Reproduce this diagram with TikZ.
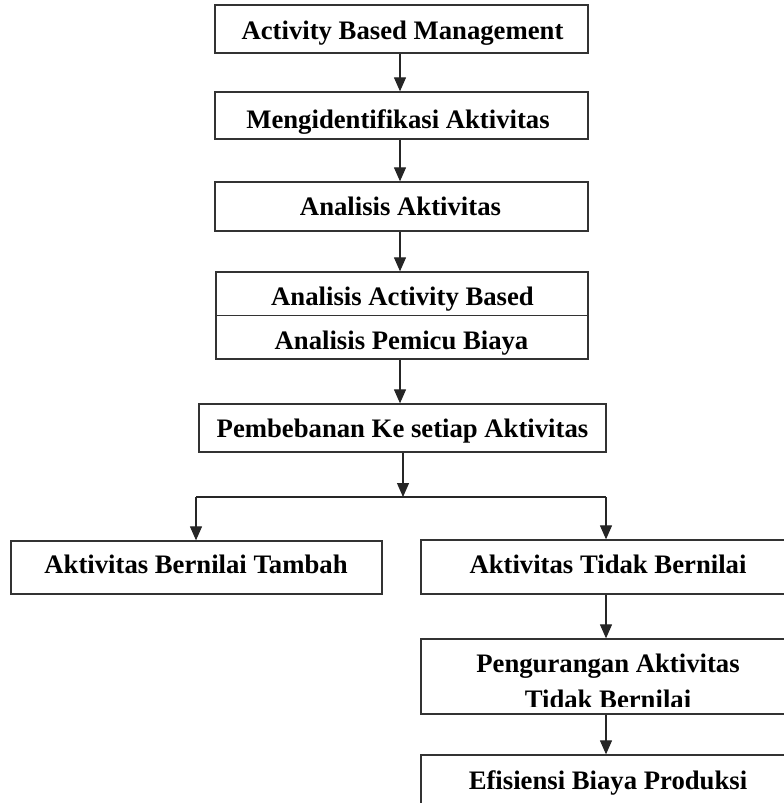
\documentclass[tikz,border=0pt]{standalone}
\usepackage{fontspec}
\setmainfont{Liberation Serif}
\usetikzlibrary{arrows.meta}
\begin{document}
\begin{tikzpicture}[x=1pt,y=-1pt,
  box/.style={draw=black!80, line width=1.3pt, inner sep=0pt, fill=none},
  txt/.style={inner sep=0pt, anchor=base, font=\fontsize{26.7}{30}\selectfont\bfseries, text=black},
  conn/.style={draw=black!85, line width=1.2pt},
  arr/.style={conn, -{Triangle[width=12pt,length=14pt]}}]
\useasboundingbox (0,0) rectangle (784,803);
\clip (0,0) rectangle (784,803);

% boxes
\node[box, minimum width=373pt, minimum height=48pt] (b1) at (401.5,29) {};
\node[box, minimum width=373pt, minimum height=47pt] (b2) at (401.5,115.5) {};
\node[box, minimum width=373pt, minimum height=49pt] (b3) at (401.5,206.5) {};
\node[box, minimum width=372pt, minimum height=87pt] (b4) at (402,315.5) {};
\node[box, minimum width=407pt, minimum height=48pt] (b5) at (402.5,428) {};
\node[box, minimum width=371pt, minimum height=53pt] (L) at (196.5,567.5) {};
\node[box, minimum width=374pt, minimum height=54pt] (R) at (608,567) {};
\node[box, minimum width=374pt, minimum height=75pt] (P) at (608,676.5) {};
\node[box, minimum width=374pt, minimum height=70pt] (E) at (608,790) {};
\draw[box] (b4.west) -- (b4.east);

% texts
\node[txt] (t1) at (402.5,39.5) {Activity Based Management};
\node[txt] (t2) at (398,128) {Mengidentifikasi Aktivitas};
\node[txt] (t3) at (400.5,215) {Analisis Aktivitas};
\node[txt] (t4a) at (402.5,305) {Analisis Activity Based};
\node[txt] (t4b) at (401.5,349) {Analisis Pemicu Biaya};
\node[txt] (t5) at (402.5,437) {Pembebanan Ke setiap Aktivitas};
\node[txt] (tL) at (196,573) {Aktivitas Bernilai Tambah};
\node[txt] (tR) at (608,573) {Aktivitas Tidak Bernilai};
\node[txt] (tP1) at (608,672) {Pengurangan Aktivitas};
\begin{scope}
  \clip (421,640) rectangle (795,706);
  \node[txt] (tP2) at (608,708) {Tidak Bernilai};
\end{scope}
\node[txt] (tE) at (608,789) {Efisiensi Biaya Produksi};

% connectors
\coordinate (j) at (403,497);
\coordinate (jl) at (196,497);
\coordinate (jr) at (606,497);
\draw[arr] (b1.south -| 400,0) -- (b2.north -| 400,0);
\draw[arr] (b2.south -| 400,0) -- (b3.north -| 400,0);
\draw[arr] (b3.south -| 400,0) -- (b4.north -| 400,0);
\draw[arr] (b4.south -| 400,0) -- (b5.north -| 400,0);
\draw[arr] (b5.south -| j) -- (j);
\draw[conn] (jl) -- (jr);
\draw[arr] (jl) -- (jl |- L.north);
\draw[arr] (jr) -- (jr |- R.north);
\draw[arr] (R.south -| jr) -- (P.north -| jr);
\draw[arr] (P.south -| jr) -- (E.north -| jr);
\end{tikzpicture}
\end{document}
